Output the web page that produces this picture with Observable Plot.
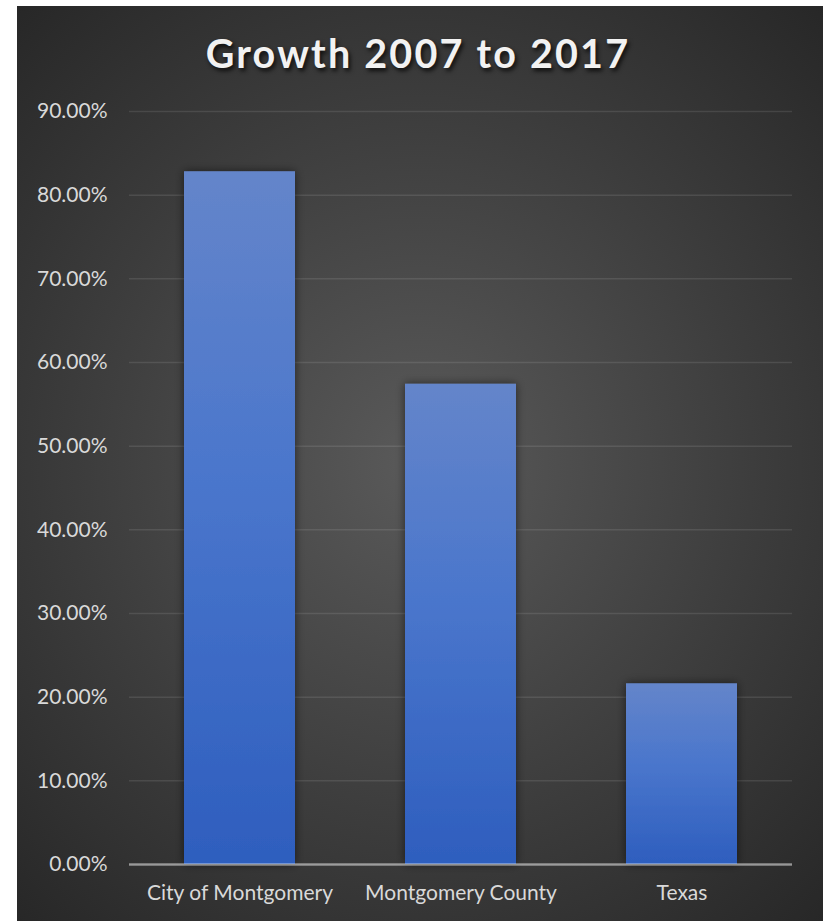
<!DOCTYPE html>
<html>
<head>
<meta charset="utf-8">
<script src="https://cdn.jsdelivr.net/npm/d3@7"></script>
<script src="https://cdn.jsdelivr.net/npm/@observablehq/plot@0.6"></script>
<style>
  html, body { margin: 0; padding: 0; background: #ffffff; }
  #chart {
    position: absolute; left: 17px; top: 6px; width: 806px; height: 915px;
    background: radial-gradient(ellipse 75% 70% at 50% 50%, #5a5a5a 0%, #3d3d3d 55%, #262626 100%);
    overflow: hidden;
  }
  #title {
    height: 90px; box-sizing: border-box; padding-top: 27px;
    text-align: center; font-family: Lato, "Open Sans", sans-serif; font-weight: 700;
    font-size: 39.5px; letter-spacing: 2.2px; color: #f2f2f2; line-height: 1;
    text-shadow: 2px 3px 4px rgba(0,0,0,0.75);
    padding-right: 4px;
  }
  svg { display: block; }
</style>
</head>
<body>
<div id="chart"><div id="title">Growth 2007 to 2017</div></div>
<script>
const categories = ["City of Montgomery", "Montgomery County", "Texas"];
const growth = [82.8, 57.4, 21.6];
const yTicks = [0, 10, 20, 30, 40, 50, 60, 70, 80, 90];

const data = categories.map((c, i) => ({category: c, value: growth[i]}));
const fontFam = "Lato, 'Open Sans', sans-serif";

const plot = Plot.plot({
  width: 806,
  height: 825,
  marginTop: 15,
  marginBottom: 57,
  marginLeft: 112,
  marginRight: 31,
  style: {background: "transparent", color: "#d9d9d9", fontFamily: fontFam, fontSize: "21px", overflow: "visible"},
  x: {domain: categories, paddingInner: 0.5, paddingOuter: 0.25, label: null},
  y: {domain: [0, 90], label: null},
  marks: [
    Plot.gridY(yTicks, {stroke: "#ffffff", strokeOpacity: 0.1, strokeWidth: 1.5}),
    Plot.barY(data, {x: "category", y: "value", fill: "url(#barGrad)"}),
    Plot.ruleY([0], {stroke: "#ffffff", strokeOpacity: 0.45, strokeWidth: 2.5}),
    Plot.axisY(yTicks, {tickSize: 0, tickPadding: 22, tickFormat: d => d.toFixed(2) + "%", fill: "#d9d9d9", fontSize: 21, label: null}),
    Plot.axisX({tickSize: 0, tickPadding: 21, fill: "#d9d9d9", fontSize: 21, label: null})
  ]
});

const svg = d3.select(plot);
const defs = svg.insert("defs", ":first-child");
const g = defs.append("linearGradient").attr("id", "barGrad")
  .attr("x1", 0).attr("y1", 0).attr("x2", 0).attr("y2", 1);
g.append("stop").attr("offset", "0%").attr("stop-color", "#6485ca");
g.append("stop").attr("offset", "45%").attr("stop-color", "#4a76cc");
g.append("stop").attr("offset", "100%").attr("stop-color", "#2e5ebe");
const f = defs.append("filter").attr("id", "barShadow")
  .attr("x", "-20%").attr("y", "-20%").attr("width", "140%").attr("height", "140%");
f.append("feDropShadow").attr("dx", 0).attr("dy", 0).attr("stdDeviation", 5)
  .attr("flood-color", "#000").attr("flood-opacity", 0.55);
svg.selectAll("g[aria-label='bar'] rect").attr("filter", "url(#barShadow)");

document.getElementById("chart").appendChild(plot);
</script>
</body>
</html>
